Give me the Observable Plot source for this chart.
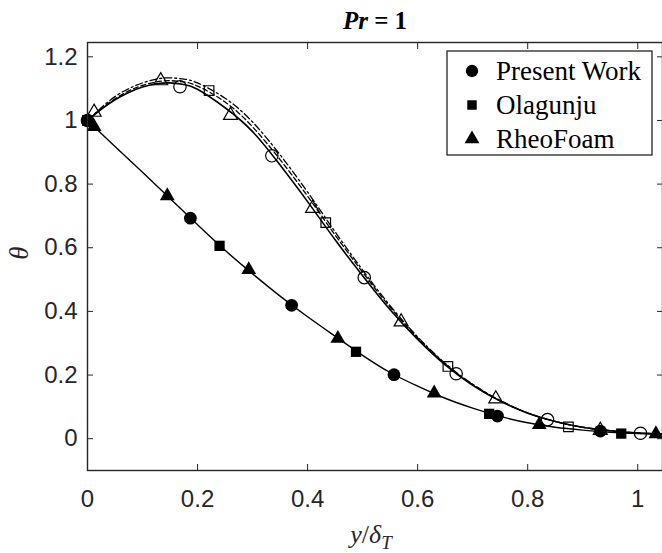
<!DOCTYPE html>
<html><head><meta charset="utf-8">
<script src="https://cdn.jsdelivr.net/npm/d3@7"></script>
<script src="https://cdn.jsdelivr.net/npm/@observablehq/plot@0.6"></script>
<style>body{margin:0;background:#fff}</style>
</head><body><div id="chart"></div>
<script>
// ---- data ----
const xTicks = [0, 0.2, 0.4, 0.6, 0.8, 1];
const yTicks = [0, 0.2, 0.4, 0.6, 0.8, 1, 1.2];
const seriesNames = ["Present Work", "Olagunju", "RheoFoam"];

// curve abscissae
const xCurve = [0, 0.025, 0.05, 0.075, 0.1, 0.125, 0.15, 0.175, 0.2, 0.25, 0.3, 0.35, 0.4, 0.45, 0.5, 0.55, 0.6, 0.65, 0.7, 0.75, 0.8, 0.85, 0.9, 0.95, 1.0, 1.045];
// upper family (open markers)
const upperPresent  = [1.0, 1.035, 1.065, 1.088, 1.105, 1.115, 1.118, 1.113, 1.098, 1.04, 0.965, 0.86, 0.745, 0.625, 0.512, 0.405, 0.312, 0.232, 0.168, 0.118, 0.08, 0.054, 0.036, 0.025, 0.018, 0.015];
const upperOlagunju = [1.0, 1.037, 1.068, 1.093, 1.11, 1.121, 1.125, 1.121, 1.108, 1.058, 0.98, 0.877, 0.762, 0.64, 0.523, 0.413, 0.317, 0.235, 0.17, 0.119, 0.081, 0.054, 0.036, 0.025, 0.018, 0.015];
const upperRheo     = [1.0, 1.04, 1.075, 1.1, 1.118, 1.13, 1.134, 1.13, 1.118, 1.07, 0.995, 0.892, 0.775, 0.65, 0.53, 0.418, 0.32, 0.237, 0.171, 0.12, 0.081, 0.054, 0.036, 0.025, 0.018, 0.015];
// lower family (filled markers)
const xLower = [0, 0.05, 0.1, 0.15, 0.2, 0.25, 0.3, 0.35, 0.4, 0.45, 0.5, 0.55, 0.6, 0.65, 0.7, 0.75, 0.8, 0.85, 0.9, 0.95, 1.0, 1.045];
const lowerCurve = [1.0, 0.918, 0.837, 0.755, 0.672, 0.592, 0.518, 0.448, 0.383, 0.322, 0.262, 0.208, 0.165, 0.127, 0.096, 0.07, 0.05, 0.036, 0.027, 0.02, 0.016, 0.014];

// markers: upper (open)
const upPresentX = [0, 0.168, 0.335, 0.503, 0.67, 0.836, 1.005];
const upPresentY = [1.0, 1.106, 0.889, 0.506, 0.204, 0.06, 0.017];
const upOlaX = [0, 0.221, 0.433, 0.655, 0.874];
const upOlaY = [1.0, 1.094, 0.679, 0.227, 0.037];
const upRheoX = [0.012, 0.133, 0.26, 0.409, 0.57, 0.742, 0.932];
const upRheoY = [1.026, 1.125, 1.016, 0.724, 0.367, 0.125, 0.026];
// markers: lower (filled)
const loPresentX = [0, 0.187, 0.371, 0.557, 0.745, 0.932];
const loPresentY = [1.0, 0.693, 0.419, 0.201, 0.071, 0.024];
const loOlaX = [0, 0.24, 0.488, 0.73, 0.97];
const loOlaY = [1.0, 0.606, 0.273, 0.078, 0.016];
const loRheoX = [0.012, 0.145, 0.293, 0.455, 0.63, 0.821, 1.033];
const loRheoY = [0.98, 0.763, 0.531, 0.315, 0.143, 0.044, 0.015];

const pts = (xs, ys) => xs.map((x, i) => ({x, y: ys[i]}));

const axisColor = "#262626";
const tickFont = "'Liberation Sans', Arial, Helvetica, sans-serif";
const serif = "'Liberation Serif', 'Times New Roman', serif";

const chart = Plot.plot({
  width: 662, height: 553,
  marginLeft: 87, marginRight: 0, marginTop: 42, marginBottom: 83,
  style: {fontFamily: tickFont, fontSize: "24px", color: axisColor, background: "white", overflow: "visible"},
  x: {domain: [0, 1.045]},
  y: {domain: [-0.1, 1.245]},
  marks: [
    // inward ticks on all four sides
    Plot.axisX(xTicks, {anchor: "bottom", tickSize: -6, tickFormat: () => "", label: null, stroke: axisColor}),
    Plot.axisX(xTicks, {anchor: "top", tickSize: -6, tickFormat: () => "", label: null, stroke: axisColor}),
    Plot.axisY(yTicks, {anchor: "left", tickSize: -6, tickFormat: () => "", label: null, stroke: axisColor}),
    Plot.axisY(yTicks, {anchor: "right", tickSize: -6, tickFormat: () => "", label: null, stroke: axisColor}),
    // tick labels
    Plot.axisX(xTicks, {anchor: "bottom", tickSize: 0, tickPadding: 19, tickFormat: d => String(d), label: null, fill: axisColor}),
    Plot.axisY(yTicks, {anchor: "left", tickSize: 0, tickPadding: 10, tickFormat: d => String(d), label: null, fill: axisColor}),
    // curves
    Plot.line(pts(xLower, lowerCurve), {x: "x", y: "y", curve: "natural", stroke: "black", strokeWidth: 1.4}),
    Plot.line(pts(xCurve, upperRheo), {x: "x", y: "y", curve: "natural", stroke: "black", strokeWidth: 1.3, strokeDasharray: "7,3,2,3"}),
    Plot.line(pts(xCurve, upperOlagunju), {x: "x", y: "y", curve: "natural", stroke: "black", strokeWidth: 1.3, strokeDasharray: "5,3"}),
    Plot.line(pts(xCurve, upperPresent), {x: "x", y: "y", curve: "natural", stroke: "black", strokeWidth: 1.6}),
    // open markers
    Plot.dot(pts(upOlaX, upOlaY), {x: "x", y: "y", symbol: "square", r: 5.4, fill: "none", stroke: "black", strokeWidth: 1.2}),
    Plot.dot(pts(upRheoX, upRheoY), {x: "x", y: "y", symbol: "triangle", r: 5.2, fill: "none", stroke: "black", strokeWidth: 1.2}),
    Plot.dot(pts(upPresentX, upPresentY), {x: "x", y: "y", symbol: "circle", r: 6.2, fill: "none", stroke: "black", strokeWidth: 1.2}),
    // filled markers
    Plot.dot(pts(loPresentX, loPresentY), {x: "x", y: "y", symbol: "circle", r: 6.4, fill: "black", stroke: "none"}),
    Plot.dot(pts(loOlaX, loOlaY), {x: "x", y: "y", symbol: "square", r: 5.8, fill: "black", stroke: "none"}),
    Plot.dot(pts(loRheoX, loRheoY), {x: "x", y: "y", symbol: "triangle", r: 5.5, fill: "black", stroke: "none"}),
    Plot.frame({stroke: axisColor, strokeWidth: 1.4})
  ]
});

document.getElementById("chart").appendChild(chart);

// ---- title, axis labels, legend (layout added to the same SVG) ----
const svg = d3.select(chart);
const title = svg.append("text").attr("x", 375).attr("y", 29).attr("text-anchor", "middle")
  .attr("font-family", serif).attr("font-size", 25).attr("font-weight", "bold").attr("fill", "black");
title.append("tspan").attr("font-style", "italic").text("Pr");
title.append("tspan").text(" = 1");

const xl = svg.append("text").attr("x", 371).attr("y", 543).attr("text-anchor", "middle")
  .attr("font-family", serif).attr("font-size", 26).attr("fill", axisColor);
xl.append("tspan").attr("font-style", "italic").text("y");
xl.append("tspan").text("/");
xl.append("tspan").attr("font-style", "italic").text("δ");
xl.append("tspan").attr("font-style", "italic").attr("font-size", 19).attr("dy", 6).text("T");

svg.append("text").attr("transform", "translate(28,253) rotate(-90)").attr("text-anchor", "middle")
  .attr("font-family", serif).attr("font-size", 27).attr("font-style", "italic").attr("fill", axisColor)
  .text("θ");

const lg = svg.append("g");
lg.append("rect").attr("x", 447).attr("y", 51).attr("width", 205).attr("height", 104)
  .attr("fill", "white").attr("stroke", axisColor).attr("stroke-width", 1.3);
const legendSymbols = [d3.symbolCircle, d3.symbolSquare, d3.symbolTriangle];
const legendSizes = [120, 90, 95];
const rowY = [71, 105, 139];
seriesNames.forEach((name, i) => {
  lg.append("path").attr("d", d3.symbol(legendSymbols[i], legendSizes[i])())
    .attr("transform", `translate(472,${rowY[i]})`).attr("fill", "black");
  lg.append("text").attr("x", 496).attr("y", rowY[i] + 9).attr("text-anchor", "start").attr("font-family", serif)
    .attr("font-size", 27).attr("fill", "black").text(name);
});
</script>
</body></html>
